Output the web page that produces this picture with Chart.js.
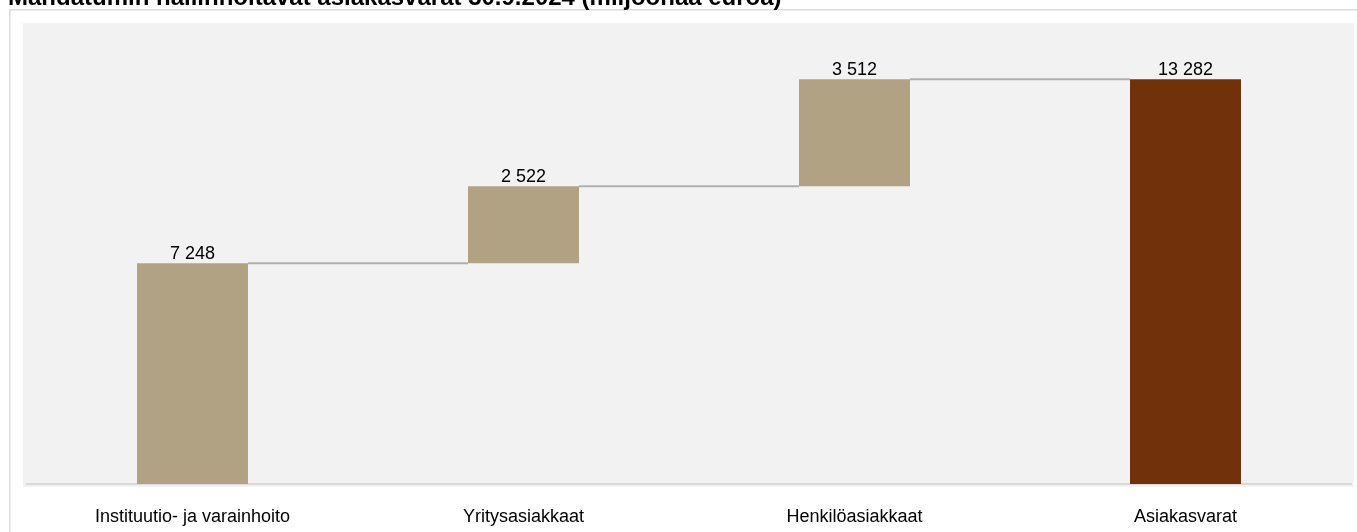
<!DOCTYPE html>
<html lang="fi">
<head>
<meta charset="utf-8">
<title>Mandatumin hallinnoitavat asiakasvarat</title>
<script src="https://cdn.jsdelivr.net/npm/chart.js@4.4.1/dist/chart.umd.min.js"></script>
<style>
  html, body { margin: 0; padding: 0; background: #ffffff; }
  #wrap { position: relative; width: 1357px; height: 532px; }
</style>
</head>
<body>
<div id="wrap"><canvas id="waterfallChart" width="1357" height="532"></canvas></div>
<script>
// Chart data (millions of euros)
const TITLE = "Mandatumin hallinnoitavat asiakasvarat 30.9.2024 (miljoonaa euroa)";
const categories = ["Instituutio- ja varainhoito", "Yritysasiakkaat", "Henkilöasiakkaat", "Asiakasvarat"];
const increments = [7248, 2522, 3512];
const totalValue = 13282;
const barColors = ["#b2a284", "#b2a284", "#b2a284", "#71320b"];

const FONT = "'Liberation Sans', Arial, sans-serif";

// Build floating ranges for the waterfall: each step starts where the previous ended.
const ranges = [];
let running = 0;
increments.forEach((v) => {
  ranges.push([running, running + v]);
  running += v;
});
ranges.push([0, totalValue]);

// 7248 -> "7 248"
function fmt(n) {
  return String(Math.round(n)).replace(/\B(?=(\d{3})+(?!\d))/g, " ");
}

// Frame, grey plot background and the (mostly clipped) title
const backgroundPlugin = {
  id: "backgroundPlugin",
  beforeDraw(chart) {
    const { ctx, chartArea } = chart;
    ctx.save();
    ctx.fillStyle = "#dcdcdc";
    ctx.fillRect(9, 9, chart.width - 9, 1.5);
    ctx.fillRect(9, 9, 1.5, chart.height - 9);
    ctx.fillStyle = "#f2f2f2";
    ctx.fillRect(chartArea.left - 4, chartArea.top - 4,
      chartArea.right - chartArea.left + 7, chartArea.bottom - chartArea.top + 7);
    ctx.fillStyle = "#000000";
    ctx.font = "bold 24px " + FONT;
    ctx.textBaseline = "alphabetic";
    ctx.fillText(TITLE, 8, 5);
    ctx.restore();
  },
};

// Connector lines between bars and value labels on top
const waterfallPlugin = {
  id: "waterfallPlugin",
  afterDatasetsDraw(chart) {
    const { ctx } = chart;
    const yScale = chart.scales.y;
    const bars = chart.getDatasetMeta(0).data;
    ctx.save();
    ctx.strokeStyle = "#b0b0b0";
    ctx.lineWidth = 2;
    for (let i = 0; i < bars.length - 1; i++) {
      const level = ranges[i][1];
      const y = yScale.getPixelForValue(level);
      ctx.beginPath();
      ctx.moveTo(bars[i].x + bars[i].width / 2, y);
      ctx.lineTo(bars[i + 1].x - bars[i + 1].width / 2, y);
      ctx.stroke();
    }
    ctx.fillStyle = "#000000";
    ctx.font = "18px " + FONT;
    ctx.textAlign = "center";
    ctx.textBaseline = "alphabetic";
    bars.forEach((bar, i) => {
      const value = ranges[i][1] - ranges[i][0];
      const top = yScale.getPixelForValue(ranges[i][1]);
      ctx.fillText(fmt(value), bar.x, top - 4);
    });
    ctx.restore();
  },
};

const ctx = document.getElementById("waterfallChart").getContext("2d");
new Chart(ctx, {
  type: "bar",
  data: {
    labels: categories,
    datasets: [
      {
        data: ranges,
        backgroundColor: barColors,
        borderWidth: 0,
        barPercentage: 1,
        categoryPercentage: 0.3353,
      },
    ],
  },
  options: {
    responsive: false,
    animation: false,
    layout: { padding: { left: 27, right: 6, top: 27, bottom: 0 } },
    plugins: {
      legend: { display: false },
      tooltip: { enabled: false },
    },
    scales: {
      x: {
        grid: { display: false },
        border: { display: true, color: "#d9d9d9", width: 2 },
        ticks: {
          color: "#000000",
          font: { family: FONT, size: 18 },
          padding: 14,
          maxRotation: 0,
          autoSkip: false,
        },
        afterFit(scale) {
          scale.height = 48;
        },
      },
      y: {
        display: false,
        min: 0,
        max: 15000,
      },
    },
  },
  plugins: [backgroundPlugin, waterfallPlugin],
});
</script>
</body>
</html>
